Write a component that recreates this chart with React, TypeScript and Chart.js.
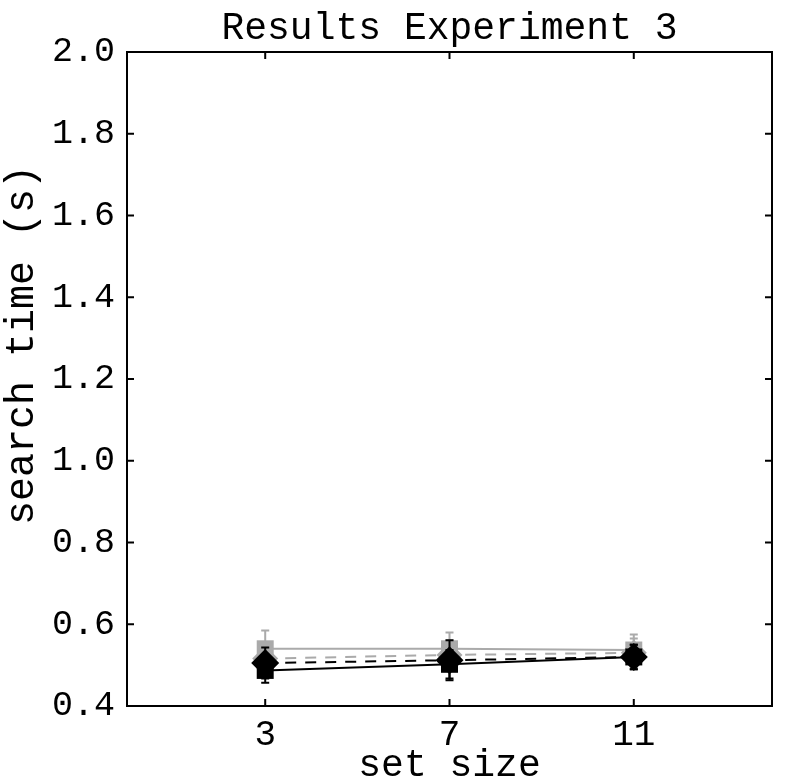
import React, { useEffect, useRef } from "react";
import { Chart, registerables } from "chart.js";

Chart.register(...registerables);

const setSizes = [3, 7, 11];
const yTickValues = [0.4, 0.6, 0.8, 1.0, 1.2, 1.4, 1.6, 1.8, 2.0];

const graySolid = [0.54, 0.54, 0.537];
const graySolidErr = [0.045, 0.04, 0.038];
const grayDashed = [0.516, 0.525, 0.53];
const grayDashedErr = [0.035, 0.035, 0.035];
const blackDashed = [0.505, 0.512, 0.52];
const blackDashedErr = [0.038, 0.049, 0.03];
const blackSolid = [0.487, 0.502, 0.52];
const blackSolidErr = [0.03, 0.035, 0.03];

const titleText = "Results Experiment 3";
const xLabel = "set size";
const yLabel = "search time (s)";

const GRAY = "#aaaaaa";
const BLACK = "#000000";
const FONT = "'Liberation Mono', 'DejaVu Sans Mono', monospace";

// drawn bottom-to-top: gray first, black last
const series = [
  { values: graySolid, err: graySolidErr, color: GRAY, dash: [] as number[], style: "rect", radius: 12, front: false },
  { values: grayDashed, err: grayDashedErr, color: GRAY, dash: [11, 9], style: "rectRot", radius: 13, front: false },
  { values: blackDashed, err: blackDashedErr, color: BLACK, dash: [11, 9], style: "rectRot", radius: 14, front: true },
  { values: blackSolid, err: blackSolidErr, color: BLACK, dash: [] as number[], style: "rect", radius: 12, front: true },
];

function drawErrors(chart: any, front: boolean) {
  const ctx = chart.ctx;
  const xs = chart.scales.x;
  const ys = chart.scales.y;
  ctx.save();
  series
    .filter((s) => s.front === front)
    .forEach((s) => {
      ctx.strokeStyle = s.color;
      ctx.lineWidth = 2;
      ctx.setLineDash([]);
      s.values.forEach((v, i) => {
        const px = xs.getPixelForValue(setSizes[i]);
        const top = ys.getPixelForValue(v + s.err[i]);
        const bot = ys.getPixelForValue(v - s.err[i]);
        ctx.beginPath();
        ctx.moveTo(px, top);
        ctx.lineTo(px, bot);
        ctx.moveTo(px - 4, top);
        ctx.lineTo(px + 4, top);
        ctx.moveTo(px - 4, bot);
        ctx.lineTo(px + 4, bot);
        ctx.stroke();
      });
    });
  ctx.restore();
}

const errorBarPlugin = {
  id: "errorBars",
  beforeDatasetsDraw(chart: any) {
    drawErrors(chart, false);
  },
  afterDatasetsDraw(chart: any) {
    drawErrors(chart, true);
  },
};

const boxPlugin = {
  id: "boxTicks",
  afterDraw(chart: any) {
    const ctx = chart.ctx;
    const a = chart.chartArea;
    const xs = chart.scales.x;
    const ys = chart.scales.y;
    ctx.save();
    ctx.strokeStyle = "#000";
    ctx.lineWidth = 2;
    ctx.setLineDash([]);
    ctx.strokeRect(a.left, a.top, a.right - a.left, a.bottom - a.top);
    const len = 7;
    ctx.beginPath();
    setSizes.forEach((t) => {
      const px = xs.getPixelForValue(t);
      ctx.moveTo(px, a.bottom);
      ctx.lineTo(px, a.bottom - len);
      ctx.moveTo(px, a.top);
      ctx.lineTo(px, a.top + len);
    });
    yTickValues.forEach((t) => {
      const py = ys.getPixelForValue(t);
      ctx.moveTo(a.left, py);
      ctx.lineTo(a.left + len, py);
      ctx.moveTo(a.right, py);
      ctx.lineTo(a.right - len, py);
    });
    ctx.stroke();
    ctx.fillStyle = "#000";
    ctx.font = `38px ${FONT}`;
    ctx.textAlign = "center";
    ctx.textBaseline = "alphabetic";
    ctx.fillText(titleText, (a.left + a.right) / 2, 39);
    ctx.font = `38px ${FONT}`;
    ctx.fillText(xLabel, (a.left + a.right) / 2, 776);
    ctx.save();
    ctx.translate(33, 345);
    ctx.rotate(-Math.PI / 2);
    ctx.font = `40px ${FONT}`;
    ctx.textAlign = "center";
    ctx.textBaseline = "alphabetic";
    ctx.fillText(yLabel, 0, 0);
    ctx.restore();
    ctx.restore();
  },
};

export default function App() {
  const ref = useRef<HTMLCanvasElement | null>(null);
  useEffect(() => {
    document.body.style.margin = "0";
    const canvas = ref.current!;
    // Chart.js paints dataset 0 on top, so feed the series reversed
    const ordered = [...series].reverse();
    const chart = new Chart(canvas, {
      type: "line",
      data: {
        datasets: ordered.map((s) => ({
          data: s.values.map((v, i) => ({ x: setSizes[i], y: v })),
          borderColor: s.color,
          backgroundColor: s.color,
          borderWidth: 2,
          borderDash: s.dash,
          pointStyle: s.style as any,
          pointRadius: s.radius,
          pointBorderWidth: 0,
          pointBackgroundColor: s.color,
          tension: 0,
        })),
      },
      options: {
        responsive: false,
        animation: false,
        layout: { padding: { right: 4, left: 0, top: 52, bottom: 0 } },
        plugins: {
          legend: { display: false },
          tooltip: { enabled: false },
          title: { display: false },
        },
        scales: {
          x: {
            type: "linear",
            min: 0,
            max: 14,
            afterBuildTicks: (sc: any) => {
              sc.ticks = setSizes.map((v) => ({ value: v }));
            },
            afterFit: (sc: any) => {
              sc.height = 75;
            },
            grid: { display: false, drawTicks: false },
            border: { display: false },
            ticks: {
              color: "#000",
              font: { family: FONT, size: 36 },
              padding: 8,
              maxRotation: 0,
              callback: (v: any) => String(v),
            },
          },
          y: {
            type: "linear",
            min: 0.4,
            max: 2.0,
            afterBuildTicks: (sc: any) => {
              sc.ticks = yTickValues.map((v) => ({ value: v }));
            },
            afterFit: (sc: any) => {
              sc.width = 127;
            },
            grid: { display: false, drawTicks: false },
            border: { display: false },
            ticks: {
              color: "#000",
              font: { family: FONT, size: 35 },
              padding: 12,
              callback: (v: any) => Number(v).toFixed(1),
            },
          },
        },
      },
      plugins: [errorBarPlugin, boxPlugin],
    });
    return () => chart.destroy();
  }, []);
  return <canvas ref={ref} width={786} height={781} style={{ display: "block" }} />;
}
